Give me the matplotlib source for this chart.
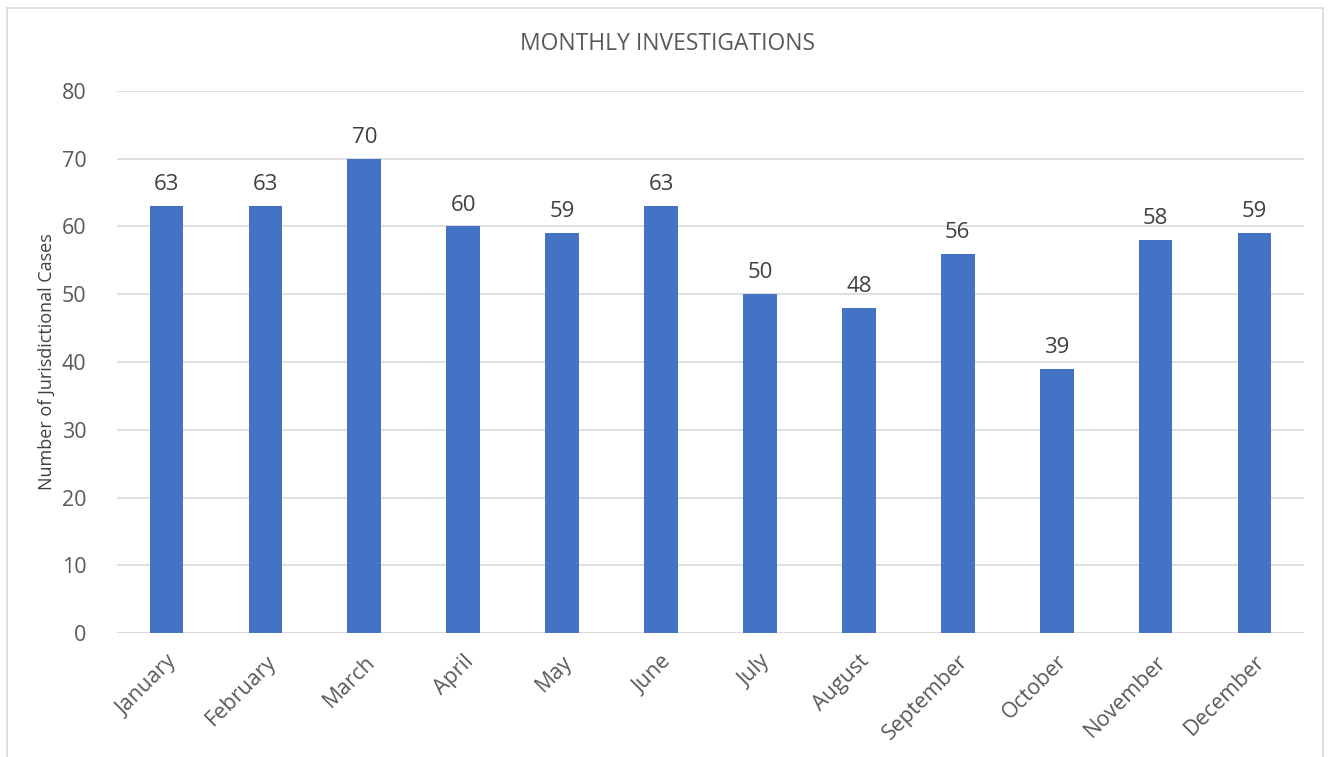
import numpy as np
import matplotlib.pyplot as plt
from matplotlib.patches import Rectangle

# data to plot
months = ['January', 'February', 'March', 'April', 'May', 'June',
          'July', 'August', 'September', 'October', 'November', 'December']
cases = [63, 63, 70, 60, 59, 63, 50, 48, 56, 39, 58, 59]

plt.rcParams['font.family'] = ['Open Sans', 'DejaVu Sans']
text_color = '#595959'

fig = plt.figure(figsize=(13.31, 7.57), dpi=100)
ax = fig.add_axes([0.0879, 0.1638, 0.8918, 0.716])

# light frame around the chart area
fig.patches.append(Rectangle((7 / 1331, -0.01), 1316 / 1331, 1 - 8 / 757 + 0.01,
                             transform=fig.transFigure, fill=False,
                             edgecolor='#d9d9d9', linewidth=1.2))

index = np.arange(len(months))
bars = ax.bar(index, cases, 0.34, color='#4472C4', zorder=3)

for rect, v in zip(bars, cases):
    ax.text(rect.get_x() + rect.get_width() / 2, v + 1.6, str(v),
            ha='center', va='bottom', fontsize=16, color='#404040')

ax.set_xlim(-0.5, len(months) - 0.5)
ax.set_ylim(0, 80)
ax.set_yticks(range(0, 81, 10))
ax.yaxis.grid(True, color='#d9d9d9', linewidth=1.2, zorder=0)
for s in ax.spines.values():
    s.set_visible(False)
ax.axhline(0, color='#d9d9d9', linewidth=1.2, zorder=2)

ax.set_xticks(index)
ax.set_xticklabels(months, rotation=45, ha='right', rotation_mode='anchor')
ax.tick_params(axis='both', length=0, colors=text_color)
ax.tick_params(axis='y', labelsize=15.5, pad=22)
ax.tick_params(axis='x', labelsize=15.5, pad=13)

ax.set_ylabel('Number of Jurisdictional Cases', fontsize=13, color='#404040', labelpad=4)
fig.text(0.5013, 1 - 44 / 757, 'MONTHLY INVESTIGATIONS', ha='center', va='center',
         fontsize=16.5, color=text_color)

fig.savefig('out.png', dpi=100)
